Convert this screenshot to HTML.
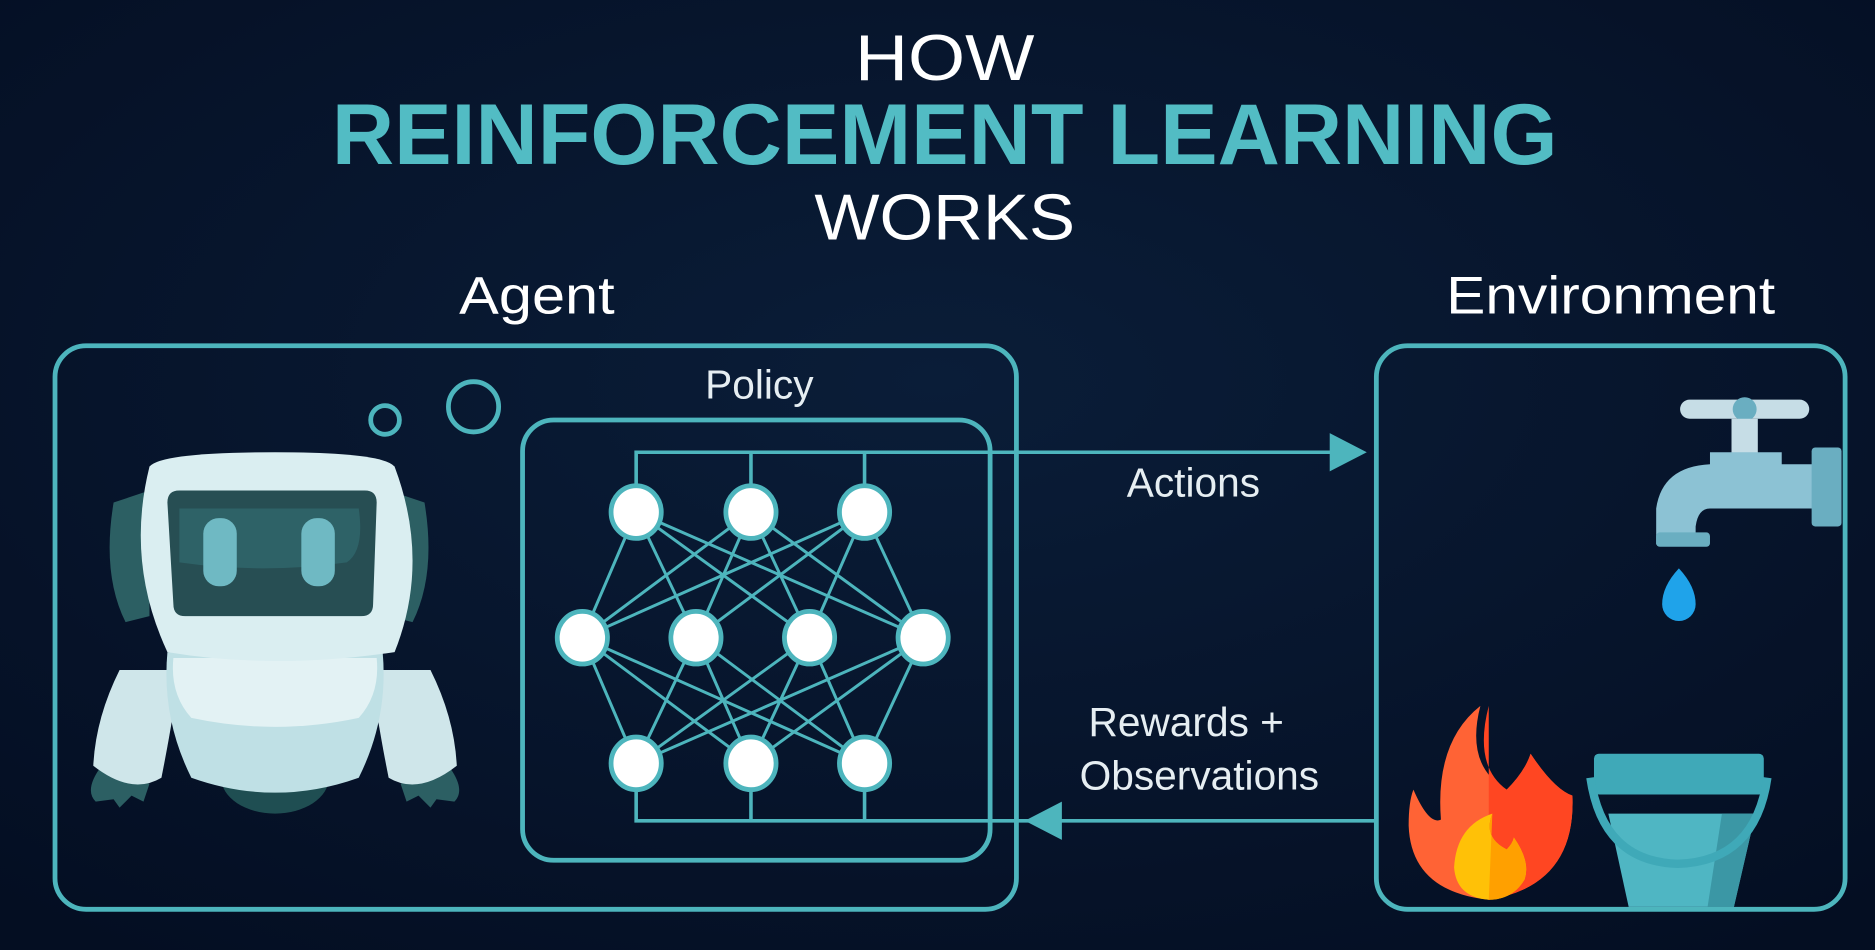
<!DOCTYPE html>
<html><head><meta charset="utf-8"><style>
html,body{margin:0;padding:0;width:1875px;height:950px;overflow:hidden;background:#06122a}
svg{display:block}
text{font-family:"Liberation Sans",sans-serif}
</style></head><body>
<svg width="1875" height="950" viewBox="0 0 1568 794" preserveAspectRatio="none" xmlns="http://www.w3.org/2000/svg">
<defs>
<radialGradient id="bg" cx="50%" cy="40%" r="75%">
<stop offset="0" stop-color="#0a1d38"/><stop offset="1" stop-color="#040e22"/>
</radialGradient>
</defs>
<rect width="1568" height="794" fill="url(#bg)"/>
<!-- titles -->
<text x="790" y="67" text-anchor="middle" font-size="54" fill="#fff" textLength="150" lengthAdjust="spacingAndGlyphs">HOW</text>
<text x="790" y="137" text-anchor="middle" font-size="72" font-weight="bold" fill="#52bcc4" textLength="1025" lengthAdjust="spacingAndGlyphs">REINFORCEMENT LEARNING</text>
<text x="790" y="200" text-anchor="middle" font-size="54" fill="#fff" textLength="218" lengthAdjust="spacingAndGlyphs">WORKS</text>
<text x="449" y="262" text-anchor="middle" font-size="44" fill="#fff" textLength="130" lengthAdjust="spacingAndGlyphs">Agent</text>
<text x="1347" y="262" text-anchor="middle" font-size="44" fill="#fff" textLength="275" lengthAdjust="spacingAndGlyphs">Environment</text>
<g fill="none" stroke="#4db5bd" stroke-width="4">
<rect x="46" y="289" width="804" height="471" rx="26"/>
<rect x="437" y="351" width="391" height="368" rx="26"/>
<rect x="1151" y="289" width="392" height="471" rx="26"/>
<circle cx="322" cy="351" r="12"/>
<circle cx="396" cy="340" r="21"/>
</g>
<text x="635" y="333" text-anchor="middle" font-size="34" fill="#e6eef2">Policy</text>
<!-- net -->
<g stroke="#4db5bd" stroke-width="3" fill="none">
<polyline points="532,428 532,378 1115,378"/>
<line x1="628" y1="378" x2="628" y2="428"/><line x1="723" y1="378" x2="723" y2="428"/>
<polyline points="532,638 532,686 1150,686"/>
<line x1="628" y1="686" x2="628" y2="638"/><line x1="723" y1="686" x2="723" y2="638"/>
<g stroke-width="2.5">
<path d="M532,428L487,533M532,428L582,533M532,428L677,533M532,428L772,533
M628,428L487,533M628,428L582,533M628,428L677,533M628,428L772,533
M723,428L487,533M723,428L582,533M723,428L677,533M723,428L772,533
M532,638L487,533M532,638L582,533M532,638L677,533M532,638L772,533
M628,638L487,533M628,638L582,533M628,638L677,533M628,638L772,533
M723,638L487,533M723,638L582,533M723,638L677,533M723,638L772,533"/>
</g>
</g>
<polygon points="1112,362 1143,378 1112,394" fill="#4db5bd"/>
<polygon points="888,670 857,686 888,702" fill="#4db5bd"/>
<g fill="#fff" stroke="#4db5bd" stroke-width="4">
<ellipse cx="532" cy="428" rx="21" ry="22"/><ellipse cx="628" cy="428" rx="21" ry="22"/><ellipse cx="723" cy="428" rx="21" ry="22"/>
<ellipse cx="487" cy="533" rx="21" ry="22"/><ellipse cx="582" cy="533" rx="21" ry="22"/><ellipse cx="677" cy="533" rx="21" ry="22"/><ellipse cx="772" cy="533" rx="21" ry="22"/>
<ellipse cx="532" cy="638" rx="21" ry="22"/><ellipse cx="628" cy="638" rx="21" ry="22"/><ellipse cx="723" cy="638" rx="21" ry="22"/>
</g>
<text x="998" y="415" text-anchor="middle" font-size="34" fill="#e6eef2">Actions</text>
<text x="992" y="615" text-anchor="middle" font-size="34" fill="#e6eef2">Rewards +</text>
<text x="1003" y="660" text-anchor="middle" font-size="34" fill="#e6eef2">Observations</text>
<!-- robot -->
<g>
<ellipse cx="230" cy="650" rx="45" ry="30" fill="#1f4e52"/>
<path d="M85,640 Q70,660 80,670 L95,668 L100,675 L110,665 L120,670 L125,655 Z" fill="#2c5f63"/>
<path d="M375,640 Q390,660 380,670 L365,668 L360,675 L350,665 L340,670 L335,655 Z" fill="#2c5f63"/>
<path d="M100,560 Q80,600 78,640 Q110,665 135,650 Q145,600 150,560 Z" fill="#cfe6ea"/>
<path d="M360,560 Q380,600 382,640 Q350,665 325,650 Q315,600 310,560 Z" fill="#cfe6ea"/>
<path d="M140,545 L320,545 Q325,600 300,650 Q230,675 160,650 Q135,600 140,545 Z" fill="#bfe0e5"/>
<path d="M145,550 L315,550 Q318,580 300,600 Q230,615 160,600 Q142,580 145,550 Z" fill="#e3f2f4"/>
<path d="M95,420 Q85,480 105,520 L125,515 L125,410 Z" fill="#2c5f63"/>
<path d="M355,420 Q365,480 345,520 L325,515 L325,410 Z" fill="#2c5f63"/>
<path d="M125,390 Q135,378 230,378 Q320,378 330,390 Q360,470 330,545 Q230,560 140,545 Q105,470 125,390 Z" fill="#daeef1"/>
<path d="M140,420 Q140,410 150,410 L305,410 Q315,410 315,420 L312,505 Q312,515 302,515 L155,515 Q145,515 145,505 Z" fill="#274e53"/>
<path d="M150,425 L300,425 Q305,460 290,470 Q220,480 150,470 Z" fill="#2e6267"/>
<rect x="170" y="433" width="28" height="57" rx="13" fill="#6fb9c3"/>
<rect x="252" y="433" width="28" height="57" rx="13" fill="#6fb9c3"/>
</g>
<!-- faucet -->
<g>
<rect x="1405" y="334" width="108" height="16" rx="8" fill="#c6dde6"/>
<circle cx="1459" cy="342" r="10" fill="#6aaec1"/>
<rect x="1448" y="350" width="22" height="30" fill="#c6dde6"/>
<path d="M1430,378 L1490,378 L1490,388 L1520,388 L1520,425 L1430,425 Q1420,425 1418,440 L1418,455 L1385,455 L1385,425 Q1390,390 1430,388 Z" fill="#8cc2d4"/>
<rect x="1385" y="445" width="45" height="12" rx="3" fill="#6aaec1"/>
<rect x="1515" y="374" width="25" height="66" rx="3" fill="#6aaec1"/>
<path d="M1404,475 Q1418,490 1418,505 A14,14 0 0 1 1390,505 Q1390,490 1404,475 Z" fill="#1fa3ea"/>
</g>
<!-- fire -->
<g>
<path d="M1238,590 Q1225,640 1260,660 Q1275,645 1280,630 Q1300,660 1315,665 Q1318,740 1245,752 Q1180,745 1178,690 Q1178,670 1182,660 Q1195,690 1205,685 Q1200,620 1238,590 Z" fill="#ff6335"/>
<path d="M1245,590 Q1232,640 1260,660 Q1275,645 1280,630 Q1300,660 1315,665 Q1318,740 1245,752 Z" fill="#ff4622"/>
<path d="M1248,680 Q1240,700 1260,710 Q1265,705 1266,700 Q1280,720 1275,735 Q1265,752 1245,752 Q1218,750 1216,725 Q1218,690 1248,680 Z" fill="#ffc107"/>
<path d="M1248,680 Q1240,700 1260,710 Q1265,705 1266,700 Q1280,720 1275,735 Q1265,752 1245,752 Z" fill="#ffa000"/>
</g>
<!-- bucket -->
<g>
<path d="M1345,680 L1468,680 L1450,758 L1362,758 Z" fill="#4fb6c3"/>
<path d="M1440,680 L1468,680 L1450,758 L1428,758 Z" fill="#3b97a5"/>
<rect x="1333" y="630" width="142" height="34" rx="4" fill="#3fa9b8"/>
<path d="M1330,650 Q1340,720 1403,722 Q1468,720 1478,650" fill="none" stroke="#3fa9b8" stroke-width="7"/>
</g>
</svg>
</body></html>
